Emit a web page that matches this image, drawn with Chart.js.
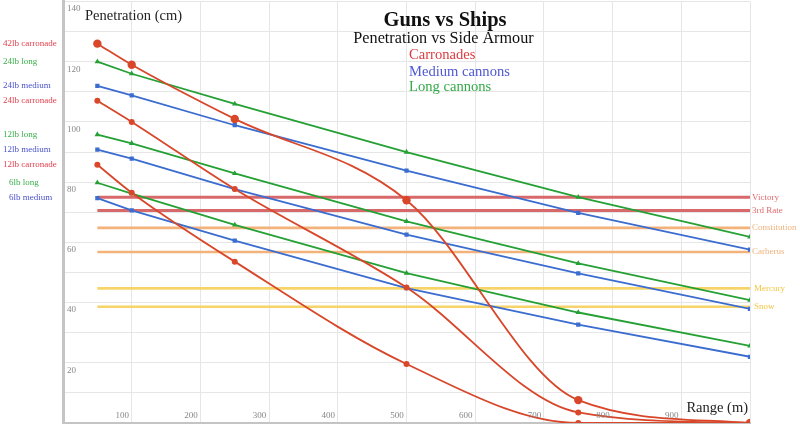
<!DOCTYPE html>
<html>
<head>
<meta charset="utf-8">
<script src="https://cdn.jsdelivr.net/npm/chart.js@4.4.1/dist/chart.umd.min.js"></script>
<style>
  html, body { margin: 0; padding: 0; background: #fff; }
  #wrap { position: relative; width: 800px; height: 425px; }
</style>
</head>
<body>
<div id="wrap"><canvas id="gunsChart" width="800" height="425"></canvas></div>
<script>
// ranges in metres, penetration in cm
const ranges = [50, 100, 250, 500, 750, 1000];

const carronade42 = [126, 119, 101, 74, 7.6, 0];
const carronade24 = [107, 100, 77.7, 45, 3.5, 0];
const carronade12 = [85.8, 76.5, 53.6, 19.6, 0, 0];
const long24 = [120, 116, 106, 90, 75, 61.8];
const medium24 = [112, 108.8, 98.9, 83.8, 69.8, 57.6];
const long12 = [95.8, 92.9, 82.9, 67, 53, 40.8];
const medium12 = [90.8, 87.8, 77.7, 62.6, 49.7, 37.9];
const long6 = [79.8, 76.2, 65.8, 49.8, 36.7, 25.6];
const medium6 = [74.7, 70.6, 60.6, 44.8, 32.7, 22];

const ships = ["Victory", "3rd Rate", "Constitution", "Carberus", "Mercury", "Snow"];
const shipArmour = [75, 70.6, 64.8, 56.8, 44.7, 38.6];
const shipColors = ["#d8696b", "#d8696b", "#f2b27a", "#f2b27a", "#f7d46a", "#f7d46a"];
const shipTextColors = ["#e06a6e", "#e06a6e", "#f0b27e", "#f0b27e", "#f2c640", "#f2c640"];

const xTicks = [100, 200, 300, 400, 500, 600, 700, 800, 900];
const yTicks = [20, 40, 60, 80, 100, 120, 140];

const RED = "#d8472a", BLUE = "#3b6cd0", GREEN = "#25a034";
const SERIF = "'Liberation Serif', 'DejaVu Serif', serif";

const toPoints = vals => vals.map((v, i) => ({ x: ranges[i], y: v }));

const gunSeries = [
  { label: "42lb carronade", data: carronade42, kind: "carronade", big: true },
  { label: "24lb long", data: long24, kind: "long" },
  { label: "24lb medium", data: medium24, kind: "medium" },
  { label: "24lb carronade", data: carronade24, kind: "carronade" },
  { label: "12lb long", data: long12, kind: "long" },
  { label: "12lb medium", data: medium12, kind: "medium" },
  { label: "12lb carronade", data: carronade12, kind: "carronade" },
  { label: "6lb long", data: long6, kind: "long" },
  { label: "6lb medium", data: medium6, kind: "medium" }
];

const kindStyle = {
  carronade: { color: RED, point: "circle", radius: 3, text: "#e2404c" },
  medium: { color: BLUE, point: "rect", radius: 3, text: "#4a52cc" },
  long: { color: GREEN, point: "triangle", radius: 3.2, text: "#3aae4a" }
};

const datasets = gunSeries.map(s => {
  const st = kindStyle[s.kind];
  return {
    label: s.label,
    data: toPoints(s.data),
    borderColor: st.color,
    backgroundColor: st.color,
    borderWidth: 1.8,
    pointStyle: st.point,
    pointRadius: s.big ? 4.2 : st.radius,
    pointBorderWidth: 0,
    cubicInterpolationMode: s.kind === "carronade" ? "monotone" : "default",
    tension: 0,
    order: 0
  };
});

ships.forEach((name, i) => {
  datasets.push({
    label: name,
    data: [{ x: ranges[0], y: shipArmour[i] }, { x: ranges[ranges.length - 1], y: shipArmour[i] }],
    borderColor: shipColors[i],
    borderWidth: i < 2 ? 3 : 2.6,
    pointRadius: 0,
    order: 5
  });
});

const textPlugin = {
  id: "textPlugin",
  afterDraw(chart) {
    const { ctx, scales: { x, y } } = chart;
    ctx.save();

    // tick labels sit inside the plot
    ctx.font = "9px " + SERIF;
    ctx.fillStyle = "#888";
    ctx.textBaseline = "alphabetic";
    ctx.textAlign = "center";
    xTicks.forEach(v => ctx.fillText(String(v), x.getPixelForValue(v) - 9.5, 418));
    ctx.textAlign = "left";
    ctx.textBaseline = "middle";
    yTicks.forEach(v => ctx.fillText(String(v), 67, y.getPixelForValue(v) + 7.5));

    // gun labels in the left margin
    gunSeries.forEach(s => {
      ctx.fillStyle = kindStyle[s.kind].text;
      const lx = s.label.startsWith("6lb") ? 9 : 3;
      ctx.fillText(s.label, lx, y.getPixelForValue(s.data[0]));
    });

    // ship labels on the right
    ships.forEach((name, i) => {
      ctx.fillStyle = shipTextColors[i];
      ctx.fillText(name, i < 4 ? 752 : 754, y.getPixelForValue(shipArmour[i]));
    });

    ctx.textBaseline = "alphabetic";
    ctx.fillStyle = "#222";
    ctx.font = "14.5px " + SERIF;
    ctx.fillText("Penetration (cm)", 85, 19.5);
    ctx.textAlign = "right";
    ctx.fillText("Range (m)", 748, 411.5);

    ctx.textAlign = "center";
    ctx.fillStyle = "#111";
    ctx.font = "bold 20.5px " + SERIF;
    ctx.fillText("Guns vs Ships", 445, 26);
    ctx.font = "16.2px " + SERIF;
    ctx.fillText("Penetration vs Side Armour", 443.5, 42.5);

    ctx.textAlign = "left";
    ctx.font = "14.6px " + SERIF;
    ctx.fillStyle = "#dc3c40";
    ctx.fillText("Carronades", 409, 59);
    ctx.fillStyle = "#4f58d2";
    ctx.fillText("Medium cannons", 409, 75.5);
    ctx.fillStyle = "#34aa48";
    ctx.fillText("Long cannons", 409, 90.5);
    ctx.restore();
  }
};

new Chart("gunsChart", {
  type: "line",
  data: { datasets },
  options: {
    responsive: false,
    animation: false,
    events: [],
    layout: { autoPadding: false, padding: { left: 63, right: 50, top: 1.5, bottom: 2 } },
    plugins: { legend: { display: false }, tooltip: { enabled: false } },
    scales: {
      x: {
        type: "linear",
        min: 0,
        max: 1000,
        grid: { color: "#e6e6e6", drawTicks: false },
        border: { color: "#c4c4c4", width: 2 },
        ticks: { display: false, stepSize: 100 }
      },
      y: {
        min: 0,
        max: 140,
        grid: { color: "#e6e6e6", drawTicks: false },
        border: { color: "#c4c4c4", width: 3 },
        ticks: { display: false, stepSize: 10 }
      }
    }
  },
  plugins: [textPlugin]
});
</script>
</body>
</html>
